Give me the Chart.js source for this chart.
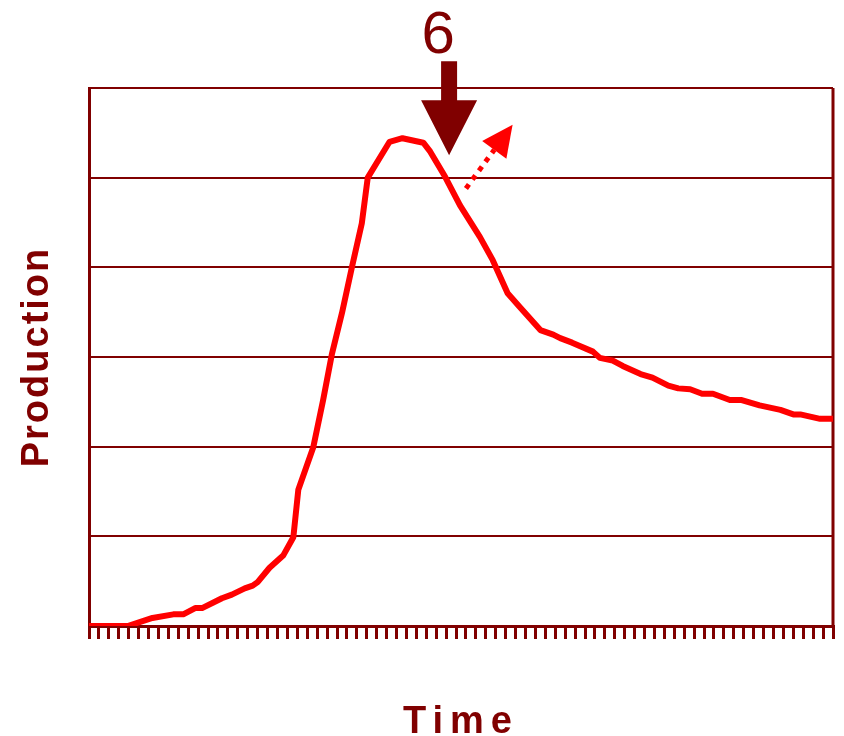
<!DOCTYPE html>
<html>
<head>
<meta charset="utf-8">
<script src="https://cdn.jsdelivr.net/npm/chart.js@4/dist/chart.umd.min.js"></script>
<style>
  html, body { margin: 0; padding: 0; background: #ffffff; }
  #wrap { width: 844px; height: 736px; }
</style>
</head>
<body>
<div id="wrap"><canvas id="chart" width="844" height="736"></canvas></div>
<script>
// Time position of each vertex of the production curve
const timeSteps = [
  0, 3.9, 6.4, 8.5, 9.5, 10.7, 11.4, 13.4, 14.4, 15.7, 16.5, 17.0, 18.2, 19.6, 20.6,
  21.1, 22.6, 23.6, 24.5, 25.5, 26.5, 27.5, 28.1, 30.3, 31.6, 33.7, 34.4, 35.9, 37.4,
  39.4, 40.7, 42.2, 43.4, 45.5, 46.8, 47.5, 48.7, 50.8, 51.5, 52.8, 53.8, 55.6, 56.8,
  58.4, 59.4, 60.6, 61.8, 62.9, 64.6, 65.8, 67.6, 69.7, 71.0, 71.7, 73.7, 75
];
// Production level at each vertex
const production = [
  0, 0, 0.09, 0.13, 0.13, 0.20, 0.20, 0.31, 0.35, 0.42, 0.45, 0.49, 0.65, 0.79, 0.99,
  1.52, 1.99, 2.52, 3.04, 3.49, 4.00, 4.49, 5.00, 5.40, 5.44, 5.39, 5.29, 5.01, 4.69,
  4.34, 4.08, 3.71, 3.56, 3.30, 3.25, 3.21, 3.16, 3.06, 2.99, 2.96, 2.90, 2.81, 2.77,
  2.68, 2.65, 2.64, 2.59, 2.59, 2.52, 2.52, 2.46, 2.41, 2.36, 2.36, 2.31, 2.31
];
// Axis ranges
const timeRange = [0, 75];
const productionRange = [0, 6];
// Annotation texts and anchor points (time, production)
const peakLabel = '6';
const peakArrowTip = [36.3, 5.25];
const trendArrowTail = [38.0, 4.88];
const trendArrowTip = [42.7, 5.59];
const xTitle = 'Time';
const yTitle = 'Production';

const DARK = '#800000';
const RED = '#ff0000';

const points = timeSteps.map((t, i) => ({ x: t, y: production[i] }));

const framePlugin = {
  id: 'frame',
  beforeDatasetsDraw(chart) {
    const { ctx, chartArea: a } = chart;
    ctx.save();
    ctx.strokeStyle = DARK;
    ctx.lineWidth = 3;
    ctx.beginPath();
    ctx.moveTo(a.right, a.top);
    ctx.lineTo(a.right, a.bottom);
    ctx.stroke();
    ctx.restore();
  }
};

const annotationPlugin = {
  id: 'annotations',
  afterDraw(chart) {
    const { ctx } = chart;
    const xs = chart.scales.x, ys = chart.scales.y;
    const px = v => xs.getPixelForValue(v);
    const py = v => ys.getPixelForValue(v);
    ctx.save();

    // big downward arrow marking the peak
    const tx = px(peakArrowTip[0]), ty = py(peakArrowTip[1]);
    ctx.fillStyle = DARK;
    ctx.beginPath();
    ctx.moveTo(tx - 8, ty - 94);
    ctx.lineTo(tx + 8, ty - 94);
    ctx.lineTo(tx + 8, ty - 55);
    ctx.lineTo(tx + 28, ty - 55);
    ctx.lineTo(tx, ty);
    ctx.lineTo(tx - 28, ty - 55);
    ctx.lineTo(tx - 8, ty - 55);
    ctx.closePath();
    ctx.fill();

    // label above the arrow
    ctx.font = '60px "Liberation Sans", Arial, sans-serif';
    ctx.textAlign = 'center';
    ctx.textBaseline = 'alphabetic';
    ctx.fillText(peakLabel, tx - 11, ty - 102);

    // dotted trend arrow
    const ax = px(trendArrowTail[0]), ay = py(trendArrowTail[1]);
    const bx = px(trendArrowTip[0]), by = py(trendArrowTip[1]);
    const ang = Math.atan2(by - ay, bx - ax);
    const headLen = 31, headHalf = 15;
    const baseX = bx - headLen * Math.cos(ang), baseY = by - headLen * Math.sin(ang);
    ctx.strokeStyle = RED;
    ctx.lineWidth = 5;
    ctx.setLineDash([5, 6]);
    ctx.beginPath();
    ctx.moveTo(ax, ay);
    ctx.lineTo(baseX, baseY);
    ctx.stroke();
    ctx.setLineDash([]);
    ctx.fillStyle = RED;
    ctx.beginPath();
    ctx.moveTo(bx, by);
    ctx.lineTo(baseX - headHalf * Math.sin(ang), baseY + headHalf * Math.cos(ang));
    ctx.lineTo(baseX + headHalf * Math.sin(ang), baseY - headHalf * Math.cos(ang));
    ctx.closePath();
    ctx.fill();

    // axis titles
    const a = chart.chartArea;
    ctx.fillStyle = DARK;
    ctx.font = 'bold 38px "Liberation Sans", Arial, sans-serif';
    ctx.textAlign = 'center';
    ctx.textBaseline = 'alphabetic';
    ctx.letterSpacing = '7px';
    ctx.fillText(xTitle, (a.left + a.right) / 2, a.bottom + 107);
    ctx.letterSpacing = '2px';
    ctx.translate(a.left - 41, (a.top + a.bottom) / 2);
    ctx.rotate(-Math.PI / 2);
    ctx.fillText(yTitle, 0, 0);
    ctx.restore();
  }
};

new Chart(document.getElementById('chart'), {
  type: 'line',
  data: {
    datasets: [{
      data: points,
      borderColor: RED,
      borderWidth: 6,
      pointRadius: 0,
      tension: 0,
      fill: false,
      borderJoinStyle: 'round'
    }]
  },
  options: {
    responsive: false,
    animation: false,
    events: [],
    layout: { padding: { left: 89, top: 88, right: 11, bottom: 97 } },
    plugins: { legend: { display: false }, tooltip: { enabled: false } },
    scales: {
      x: {
        type: 'linear',
        min: timeRange[0],
        max: timeRange[1],
        ticks: { display: false, stepSize: 1, maxTicksLimit: 200, autoSkip: false },
        grid: {
          drawOnChartArea: false,
          drawTicks: true,
          tickLength: 13,
          color: DARK,
          lineWidth: 3
        },
        border: { display: true, color: DARK, width: 3 }
      },
      y: {
        min: productionRange[0],
        max: productionRange[1],
        ticks: { display: false, stepSize: 1 },
        grid: { drawTicks: false, color: DARK, lineWidth: 2 },
        border: { display: true, color: DARK, width: 3 }
      }
    }
  },
  plugins: [framePlugin, annotationPlugin]
});
</script>
</body>
</html>
